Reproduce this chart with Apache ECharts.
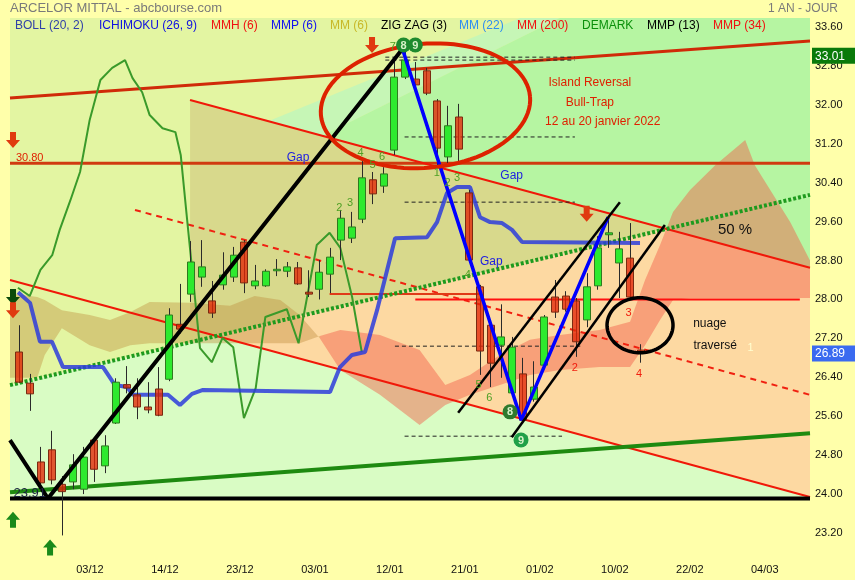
<!DOCTYPE html>
<html><head><meta charset="utf-8">
<script src="https://cdn.jsdelivr.net/npm/echarts@6/dist/echarts.min.js"></script>
<style>html,body{margin:0;padding:0;background:#FFFFAA}#c{width:855px;height:580px}</style>
</head><body><div id="c"></div>
<script>
// ---------- data ----------
const tickIdx = [7,14,21,28,35,42,49,56,63,70];
const tickLabels = ['03/12','14/12','23/12','03/01','12/01','21/01','01/02','10/02','22/02','04/03'];
// [open, close, low, high] per trading day (index = day)
const candles = [
 [26.92,26.30,26.28,27.47],[26.28,26.06,25.71,26.47],[24.66,24.23,24.15,24.97],[24.91,24.29,24.20,25.30],
 [24.20,24.05,23.15,24.37],[24.25,24.60,24.10,24.82],[24.10,24.76,24.00,24.97],[25.11,24.51,24.25,25.15],
 [24.58,24.99,24.43,25.21],[25.46,26.30,25.44,26.38],[26.25,26.18,26.07,26.63],[26.04,25.79,25.54,26.38],
 [25.79,25.73,25.66,26.30],[26.16,25.62,25.60,26.61],[26.36,27.68,26.32,27.82],[27.49,27.39,27.30,28.32],
 [28.11,28.77,27.95,29.20],[28.46,28.67,28.26,29.22],[27.97,27.72,27.62,28.38],[28.30,28.50,28.20,28.97],
 [28.46,28.91,28.36,29.08],[29.18,28.34,28.13,29.22],[28.28,28.38,28.21,28.71],[28.28,28.58,28.26,28.62],
 [28.62,28.62,28.48,28.83],[28.58,28.67,28.46,28.77],[28.65,28.32,28.30,28.77],[28.15,28.11,28.05,28.60],
 [28.21,28.56,28.00,28.81],[28.52,28.87,28.13,29.06],[29.22,29.67,28.81,29.84],[29.26,29.49,29.16,29.80],
 [29.65,30.50,29.57,30.91],[30.46,30.17,29.96,30.62],[30.33,30.58,30.19,30.72],[31.07,32.57,30.97,32.98],
 [32.57,32.92,32.53,33.09],[32.53,32.41,32.37,32.88],[32.70,32.24,32.20,32.76],[32.08,31.11,30.75,32.12],
 [30.93,31.57,30.80,31.98],[31.75,31.09,30.80,32.02],[30.19,28.81,28.75,30.25],[28.26,26.94,26.45,28.30],
 [27.47,26.69,26.20,27.50],[27.06,27.23,26.39,27.90],[26.08,27.02,26.04,27.23],[26.47,25.52,25.46,26.80],
 [25.95,26.20,25.90,26.73],[26.65,27.64,26.60,27.68],[28.05,27.74,27.62,28.40],[28.07,27.80,27.75,28.17],
 [27.97,27.13,26.82,28.03],[27.58,28.26,27.43,28.54],[28.28,29.06,28.20,29.30],[29.33,29.37,29.06,29.69],
 [28.75,29.04,28.03,29.39],[28.85,28.05,28.00,29.57],[26.96,26.89,26.70,27.08]
];
// Ichimoku cloud: day index, senkou A, senkou B
const kumoX = [-0.84,1.7,2.4,4.0,6.6,8.5,10.4,12.2,16.0,19.7,22.0,24.4,26.2,28.1,30.0,33.7,37.4,39.8,42.1,44.9,47.7,50.5,54.2,57.05,58.45,59.85,61.06,62.65,65.0,67.8,68.7,72.0,73.85];
const kumoA = [28.13,28.05,27.99,27.78,27.68,27.58,27.74,27.95,27.93,27.87,28.07,27.99,27.68,27.20,26.55,26.04,25.42,25.83,26.04,26.24,26.45,26.55,26.61,26.61,27.06,27.58,27.99,28.03,28.03,28.03,28.03,28.03,28.03];
const kumoB = [26.39,26.39,26.86,27.41,27.06,26.92,27.06,27.10,27.10,27.10,27.10,27.10,27.10,27.25,27.37,27.27,26.96,26.24,26.45,26.86,27.17,27.27,27.37,27.54,28.40,29.12,29.80,30.25,30.76,31.28,30.76,29.59,28.80];
// blue ichimoku line
const kijunX = [-0.09,1.03,1.96,3.08,4.11,7.84,8.96,10.08,10.64,13.91,15.03,16.15,17.18,29.04,29.97,31.09,32.31,33.43,35.11,38.10,39.03,39.96,40.90,42.11,43.04,43.98,45.10,46.03,46.97,57.98];
const kijunY = [28.15,27.93,27.13,27.13,26.61,26.61,26.24,26.20,26.04,26.04,25.83,26.06,26.14,26.10,26.61,26.86,26.92,27.78,29.26,29.28,29.59,30.19,30.31,30.31,29.69,29.59,29.57,29.43,29.18,29.16];
// green moving line
const mmX = [-0.1,1.0,2.0,3.1,3.8,4.8,5.7,6.6,7.6,8.7,9.9,10.6,11.5,12.2,13.4,14.6,15.1,15.7,16.9,18.0,19.0,20.0,21.0,22.1,23.0,25.0,26.1,27.8,29.0,30.0,31.1,32.0];
const mmY = [28.24,28.07,28.61,28.91,29.43,30.04,30.62,31.69,32.51,32.76,32.92,32.55,32.26,31.79,31.52,31.44,30.97,29.63,27.00,26.71,27.21,27.02,25.56,26.18,27.64,27.80,27.10,29.12,29.37,29.06,28.05,26.92];
// zigzags
const zigBlack = [[-0.84,25.11],[2.7,23.91],[35.8,33.15]];
const zigBlue = [[35.8,33.15],[46.9,25.52],[55.0,29.69]];
// trend lines (two points each)
const lineU = [[15.97,32.10],[73.85,28.65]];
const lineL = [[-0.84,28.40],[73.85,23.94]];
const lineMid = [[10.83,29.84],[73.85,26.04]];
const lineD = [[-0.84,26.24],[73.85,30.15]];
const lineG = [[-0.84,24.04],[73.85,25.25]];
const lineMM200 = [[-0.84,32.14],[73.85,33.31]];
const linePtop = [[28.1,32.10],[46.8,33.785]];
const linePbot = [[28.1,31.34],[50.5,33.785]];
const chanA = [[41.0,25.67],[56.1,30.0]];
const chanB = [[46.0,25.17],[60.3,29.53]];
const level2391 = 23.91, level3080 = 30.80, level2800 = 28.00, level2811 = 28.11;
const dashLevels = [[34.2,51.9,32.98],[34.2,51.9,32.92],[36.0,51.9,31.34],[36.0,51.9,30.0],[35.1,52.4,27.04],[36.0,50.7,25.19]];
const lastPrice = 26.89, topPrice = 33.01;

const XL=-0.84, XR=73.85, YB=23.91, YT=33.785;

// ---------- helpers ----------
function at(l,x){const a=l[0],b=l[1];return a[1]+(b[1]-a[1])*(x-a[0])/(b[0]-a[0]);}
function slope(l){return (l[1][1]-l[0][1])/(l[1][0]-l[0][0]);}
function cross(a,b){const sa=slope(a),sb=slope(b);const ia=a[0][1]-sa*a[0][0],ib=b[0][1]-sb*b[0][0];return (ib-ia)/(sa-sb);}
function xAtY(l,y){return l[0][0]+(y-l[0][1])/slope(l);}

// background regions
const xUD = cross(lineU,lineD), xLD = cross(lineL,lineD);
const x0 = cross(lineU,linePbot), x00 = cross(lineU,linePtop);
const xb = xAtY(linePbot,YT), xt = xAtY(linePtop,YT);
const regions = [
 {c:'#E3F5A2', p:[[XL,YT],[XR,YT],[XR,YB],[XL,YB]]},
 {c:'#D9FCC4', p:[[XL,at(lineD,XL)],[XR,at(lineD,XR)],[XR,YB],[XL,YB]]},
 {c:'#C6F6B6', p:[[x00,at(lineU,x00)],[xt,YT],[xb,YT],[x0,at(lineU,x0)]]},
 {c:'#B6F5A2', p:[[x0,at(lineU,x0)],[xb,YT],[XR,YT],[XR,at(lineU,XR)]]},
 {c:'#D8D98C', p:[[lineU[0][0],lineU[0][1]],[xUD,at(lineU,xUD)],[xLD,at(lineD,xLD)],[lineU[0][0],at(lineL,lineU[0][0])]]},
 {c:'#FDD9A2', p:[[xLD,at(lineD,xLD)],[xUD,at(lineD,xUD)],[XR,at(lineU,XR)],[XR,at(lineL,XR)]]}
];

// cloud polygons: consecutive runs with same sign
const kumoRuns = [];
(function(){
  let start=0;
  const sign=i=>(kumoA[i]+kumoA[i+1])>(kumoB[i]+kumoB[i+1]);
  for(let i=1;i<=kumoX.length-1;i++){
    if(i===kumoX.length-1 || sign(i)!==sign(start)){
      const idx=[];for(let k=start;k<=i;k++)idx.push(k);
      kumoRuns.push({bull:sign(start),idx});start=i;
    }
  }
})();

const chart = echarts.init(document.getElementById('c'), null, {renderer:'canvas'});

function lineS(data,color,width,type,z,extra){
  return Object.assign({type:'line',data,symbol:'none',silent:true,animation:false,z:z||5,
    lineStyle:{color,width,type:type||'solid',cap:'butt'}},extra||{});
}

const series = [];
series.push({type:'custom',silent:true,animation:false,z:1,clip:false,
  data:regions.map((r,i)=>[i]),
  renderItem:(params,api)=>{const r=regions[api.value(0)];
    return {type:'polygon',shape:{points:r.p.map(q=>api.coord(q))},style:{fill:r.c,stroke:null}};}});
series.push({type:'custom',silent:true,animation:false,z:2,clip:false,
  data:kumoRuns.map((r,i)=>[i]),
  renderItem:(params,api)=>{const r=kumoRuns[api.value(0)];
    const pts=r.idx.map(k=>api.coord([kumoX[k],kumoA[k]])).concat(r.idx.slice().reverse().map(k=>api.coord([kumoX[k],kumoB[k]])));
    return {type:'polygon',shape:{points:pts},style:{fill:r.bull?'rgba(190,140,60,0.40)':'rgba(242,91,71,0.45)',stroke:null}};}});

const two = l=>[l[0],l[1]];
series.push(lineS([[XL,level3080],[XR,level3080]],'#D03A10',3,'solid',4));
series.push(lineS(two(lineMM200),'#D02A08',3,'solid',4));
series.push(lineS(two(lineU),'#F01808',2,'solid',4));
series.push(lineS(two(lineL),'#F01808',2,'solid',4));
series.push(lineS(two(lineMid),'#F02010',2,[6,5],4));
series.push(lineS([[29.0,level2811],[43.0,level2811]],'#E03A18',2,'solid',4));
series.push(lineS([[37.0,level2800],[72.9,level2800]],'#FF1010',2,'solid',4));
series.push(lineS(two(lineG),'#1E8A10',4,'solid',4));
series.push(lineS(two(lineD),'#1E9A1E',4,[3,2],4));
series.push(lineS([[XL,level2391],[XR,level2391]],'#000',4,'solid',4));
dashLevels.forEach(d=>series.push(lineS([[d[0],d[2]],[d[1],d[2]]],'#222',1,[4,3],4)));
series.push(lineS(mmX.map((x,i)=>[x,mmY[i]]),'#3A9A2A',2,'solid',5));
series.push(lineS(kijunX.map((x,i)=>[x,kijunY[i]]),'rgba(45,60,220,0.85)',4,'solid',5));

series.push({type:'custom',silent:true,animation:false,z:7,
  data:candles.map((c,i)=>[i,c[0],c[1],c[2],c[3]]),
  renderItem:(params,api)=>{
    const i=api.value(0),o=api.value(1),c=api.value(2),l=api.value(3),h=api.value(4);
    const po=api.coord([i,o]),pc=api.coord([i,c]),pl=api.coord([i,l]),ph=api.coord([i,h]);
    const w=7, up=c>=o, top=Math.min(po[1],pc[1]), bot=Math.max(po[1],pc[1]);
    return {type:'group',children:[
      {type:'line',shape:{x1:Math.round(po[0])+0.5,y1:ph[1],x2:Math.round(po[0])+0.5,y2:pl[1]},style:{stroke:'#2A2A2A',lineWidth:1}},
      {type:'rect',shape:{x:Math.round(po[0]-w/2)+0.5,y:top,width:w,height:Math.max(bot-top,1.5)},
        style:{fill:up?'#2EEA2E':'rgba(226,38,6,0.78)',stroke:up?'#2F7A1F':'#7A2A10',lineWidth:1}}]};}});

series.push(lineS(zigBlack,'#000',4,'solid',8));
series.push(lineS(zigBlue,'#0000FF',3.5,'solid',8));
series.push(lineS(two(chanA),'#000',2.5,'solid',8));
series.push(lineS(two(chanB),'#000',2.5,'solid',8));

const F='"Liberation Sans"';
const notes = [
 {t:'Island Reversal',x:53.3,y:32.45,c:'#E02000',f:'12px '+F},
 {t:'Bull-Trap',x:53.3,y:32.04,c:'#E02000',f:'12px '+F},
 {t:'12 au 20 janvier 2022',x:54.5,y:31.65,c:'#E02000',f:'12px '+F},
 {t:'Gap',x:26.05,y:30.91,c:'#2020E0',f:'12px '+F},
 {t:'Gap',x:46.0,y:30.54,c:'#2020E0',f:'12px '+F},
 {t:'Gap',x:44.1,y:28.77,c:'#2020E0',f:'12px '+F},
 {t:'50 %',x:66.85,y:29.43,c:'#111',f:'15px '+F},
 {t:'nuage',x:64.5,y:27.50,c:'#111',f:'12px '+F},
 {t:'traversé',x:65.0,y:27.06,c:'#111',f:'12px '+F},
 {t:'1',x:68.3,y:27.0,c:'#FFFFD0',f:'11px '+F},
 {t:'30.80',x:1.0,y:30.91,c:'#E02000',f:'11px '+F},
 {t:'23.91',x:1.0,y:24.02,c:'#1A2040',f:'13px '+F},
 {t:'2',x:29.9,y:29.88,c:'#4EA024',f:'11px '+F},
 {t:'3',x:30.9,y:29.98,c:'#4EA024',f:'11px '+F},
 {t:'4',x:31.9,y:31.01,c:'#4EA024',f:'11px '+F},
 {t:'5',x:33.0,y:30.76,c:'#4EA024',f:'11px '+F},
 {t:'6',x:33.9,y:30.93,c:'#4EA024',f:'11px '+F},
 {t:'7',x:34.9,y:33.19,c:'#4EA024',f:'11px '+F},
 {t:'1',x:39.0,y:30.6,c:'#4EA024',f:'11px '+F},
 {t:'2',x:40.0,y:30.39,c:'#4EA024',f:'11px '+F},
 {t:'3',x:40.9,y:30.5,c:'#4EA024',f:'11px '+F},
 {t:'4',x:41.9,y:28.5,c:'#4EA024',f:'11px '+F},
 {t:'5',x:42.9,y:26.24,c:'#4EA024',f:'11px '+F},
 {t:'6',x:43.9,y:25.97,c:'#4EA024',f:'11px '+F},
 {t:'2',x:51.9,y:26.59,c:'#F02010',f:'11px '+F},
 {t:'3',x:56.9,y:27.72,c:'#F02010',f:'11px '+F},
 {t:'4',x:57.9,y:26.47,c:'#F02010',f:'11px '+F}
];
const badges = [{t:'8',x:35.9,y:33.23,c:'#1E8A2E'},{t:'9',x:37.0,y:33.23,c:'#1E8A2E'},{t:'8',x:45.85,y:25.69,c:'#2E7A2E'},{t:'9',x:46.87,y:25.11,c:'#1FA048'}];
const arrows = [{x:32.96,y:33.23,d:-1,c:'#E03A10'},{x:53.0,y:29.76,d:-1,c:'#E03A10'},{x:-0.56,y:31.28,d:-1,c:'#E03A10'},
 {x:-0.56,y:28.05,d:-1,c:'#0A4A0A'},{x:-0.56,y:27.78,d:-1,c:'#E03A10'},{x:-0.56,y:23.47,d:1,c:'#1A8A1A'},{x:2.9,y:22.9,d:1,c:'#1A8A1A'}];
const shapes = [{cx:37.95,cy:31.98,rx:9.8,ry:1.274,rot:-0.09,c:'#DD2200',w:4},{cx:57.98,cy:27.47,rx:3.08,ry:0.565,rot:0,c:'#000',w:3.5}];

series.push({type:'custom',silent:true,animation:false,z:9,clip:false,
  data:shapes.map((s,i)=>[i]),
  renderItem:(params,api)=>{const s=shapes[api.value(0)];
    const c=api.coord([s.cx,s.cy]), sz=api.size([s.rx,s.ry]);const ct=Math.cos(s.rot),st=Math.sin(s.rot);
    const pts=[];for(let k=0;k<=96;k++){const a=k/96*Math.PI*2;const ex=sz[0]*Math.cos(a),ey=sz[1]*Math.sin(a);
      pts.push([c[0]+ex*ct-ey*st,c[1]+ex*st+ey*ct]);}
    return {type:'polyline',shape:{points:pts},style:{stroke:s.c,lineWidth:s.w,fill:null}};}});
series.push({type:'custom',silent:true,animation:false,z:10,clip:false,
  data:arrows.map((s,i)=>[i]),
  renderItem:(params,api)=>{const a=arrows[api.value(0)];const p=api.coord([a.x,a.y]);const d=a.d;
    const pts=[[p[0]-3,p[1]+8*d],[p[0]-3,p[1]],[p[0]-7,p[1]],[p[0],p[1]-8*d],[p[0]+7,p[1]],[p[0]+3,p[1]],[p[0]+3,p[1]+8*d]];
    return {type:'polygon',shape:{points:pts},style:{fill:a.c}};}});
series.push({type:'custom',silent:true,animation:false,z:11,clip:false,
  data:badges.map((s,i)=>[i]),
  renderItem:(params,api)=>{const b=badges[api.value(0)];const p=api.coord([b.x,b.y]);
    return {type:'group',children:[{type:'circle',shape:{cx:p[0],cy:p[1],r:7.5},style:{fill:b.c}},
      {type:'text',x:p[0],y:p[1]+0.5,style:{text:b.t,fill:'#D8F0C8',font:'bold 11px '+F,align:'center',verticalAlign:'middle'}}]};}});
series.push({type:'custom',silent:true,animation:false,z:12,clip:false,
  data:notes.map((s,i)=>[i]),
  renderItem:(params,api)=>{const n=notes[api.value(0)];const p=api.coord([n.x,n.y]);
    return {type:'text',x:p[0],y:p[1],style:{text:n.t,fill:n.c,font:n.f,align:'center',verticalAlign:'middle'}};}});
const tags=[{v:topPrice,bg:'#0A7A0A'},{v:lastPrice,bg:'#3A6AF0'}];
series.push({type:'custom',silent:true,animation:false,z:12,clip:false,
  data:tags.map((s,i)=>[i]),
  renderItem:(params,api)=>{const t=tags[api.value(0)];const p=api.coord([XR,t.v]);
    return {type:'group',children:[{type:'rect',shape:{x:p[0]+2,y:p[1]-8,width:43,height:16},style:{fill:t.bg}},
      {type:'text',x:p[0]+5,y:p[1]+0.5,style:{text:t.v.toFixed(2),fill:'#fff',font:'12px '+F,align:'left',verticalAlign:'middle'}}]};}});

const legend = [
 ['BOLL (20, 2)','#3040A8',15],['ICHIMOKU (26, 9)','#1010E0',99],['MMH (6)','#F01010',211],['MMP (6)','#1010F0',271],
 ['MM (6)','#C8B828',330],['ZIG ZAG (3)','#000',381],['MM (22)','#2E8EF0',459],['MM (200)','#F01010',517],
 ['DEMARK','#0A900A',582],['MMP (13)','#000',647],['MMP (34)','#F01010',713]];

chart.setOption({
  animation:false,
  backgroundColor:'#FFFFAA',
  grid:{left:10,right:45,top:27,bottom:47,containLabel:false},
  xAxis:{type:'value',min:XL,max:XR,axisLine:{show:false},axisTick:{show:false},splitLine:{show:false},
    axisLabel:{customValues:tickIdx,formatter:v=>tickLabels[tickIdx.indexOf(Math.round(v))]||'',
      color:'#111',fontSize:11,fontFamily:'"Liberation Sans Narrow","Liberation Sans",sans-serif',margin:31,padding:[0,8,0,0]}},
  yAxis:{type:'value',position:'right',min:23.2,max:33.6,interval:0.8,axisLine:{show:false},axisTick:{show:false},splitLine:{show:false},
    axisLabel:{formatter:v=>v.toFixed(2),color:'#111',fontSize:11,fontFamily:'"Liberation Sans",sans-serif',margin:5}},
  graphic:[
    {type:'text',left:10,top:2,style:{text:'ARCELOR MITTAL - abcbourse.com',fill:'#7A7A7A',font:'13px '+F}},
    {type:'text',left:768,top:3,style:{text:'1 AN - JOUR',fill:'#7A7A7A',font:'12px '+F}}
  ].concat(legend.map(l=>({type:'text',left:l[2],top:20,z:100,style:{text:l[0],fill:l[1],font:'12px '+F}}))),
  series
});
</script></body></html>
